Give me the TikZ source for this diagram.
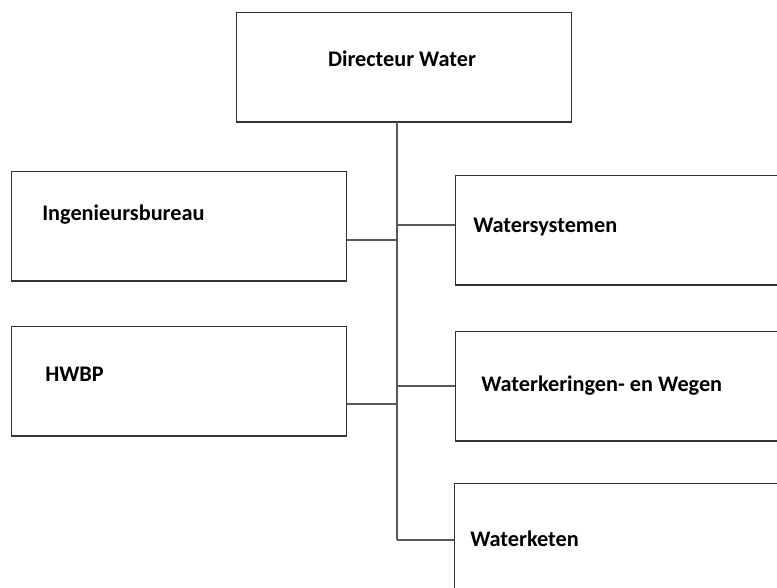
\documentclass[tikz,border=0pt]{standalone}
\usepackage{fontspec}
\setmainfont{Carlito}
\usepackage{tikz}

\begin{document}
\begin{tikzpicture}[y=-0.75pt,x=0.75pt,
	box/.style={draw=black!80, line width=0.9pt, minimum width=251.25pt, minimum height=82pt, inner sep=0pt, anchor=north west},
	lbl/.style={font=\fontsize{16.7}{19}\selectfont\bfseries, inner sep=0pt, anchor=base west},
	link/.style={draw=black!65, line width=0.9pt}]
	\useasboundingbox (0,0) rectangle (777,588);
	\clip (0,0) rectangle (777,588);

	\node[box] (dir) at (236,12) {};
	\node[lbl, anchor=base] (dirtxt) at (402,67) {Directeur Water};

	\node[box] (ing) at (11,171) {};
	\node[lbl] (ingtxt) at (42,220) {Ingenieursbureau};
	\node[box] (hwbp) at (11,326) {};
	\node[lbl] (hwbptxt) at (45,381) {HWBP};

	\node[box] (sys) at (455,175) {};
	\node[lbl] (systxt) at (473,232) {Watersystemen};
	\node[box] (ker) at (455,331) {};
	\node[lbl] (kertxt) at (481,391) {Waterkeringen- en Wegen};
	\node[box] (ket) at (454,483) {};
	\node[lbl] (kettxt) at (470,546) {Waterketen};

	\coordinate (top) at (397,122);
	\coordinate (jsys) at (397,225);
	\coordinate (jing) at (397,240);
	\coordinate (jker) at (397,386);
	\coordinate (jhwbp) at (397,404);
	\coordinate (jket) at (397,540);

	\draw[link] (top) -- (jket);
	\draw[link] (jing) -- (jing -| ing.east);
	\draw[link] (jhwbp) -- (jhwbp -| hwbp.east);
	\draw[link] (jsys) -- (jsys -| sys.west);
	\draw[link] (jker) -- (jker -| ker.west);
	\draw[link] (jket) -- (jket -| ket.west);
\end{tikzpicture}
\end{document}
